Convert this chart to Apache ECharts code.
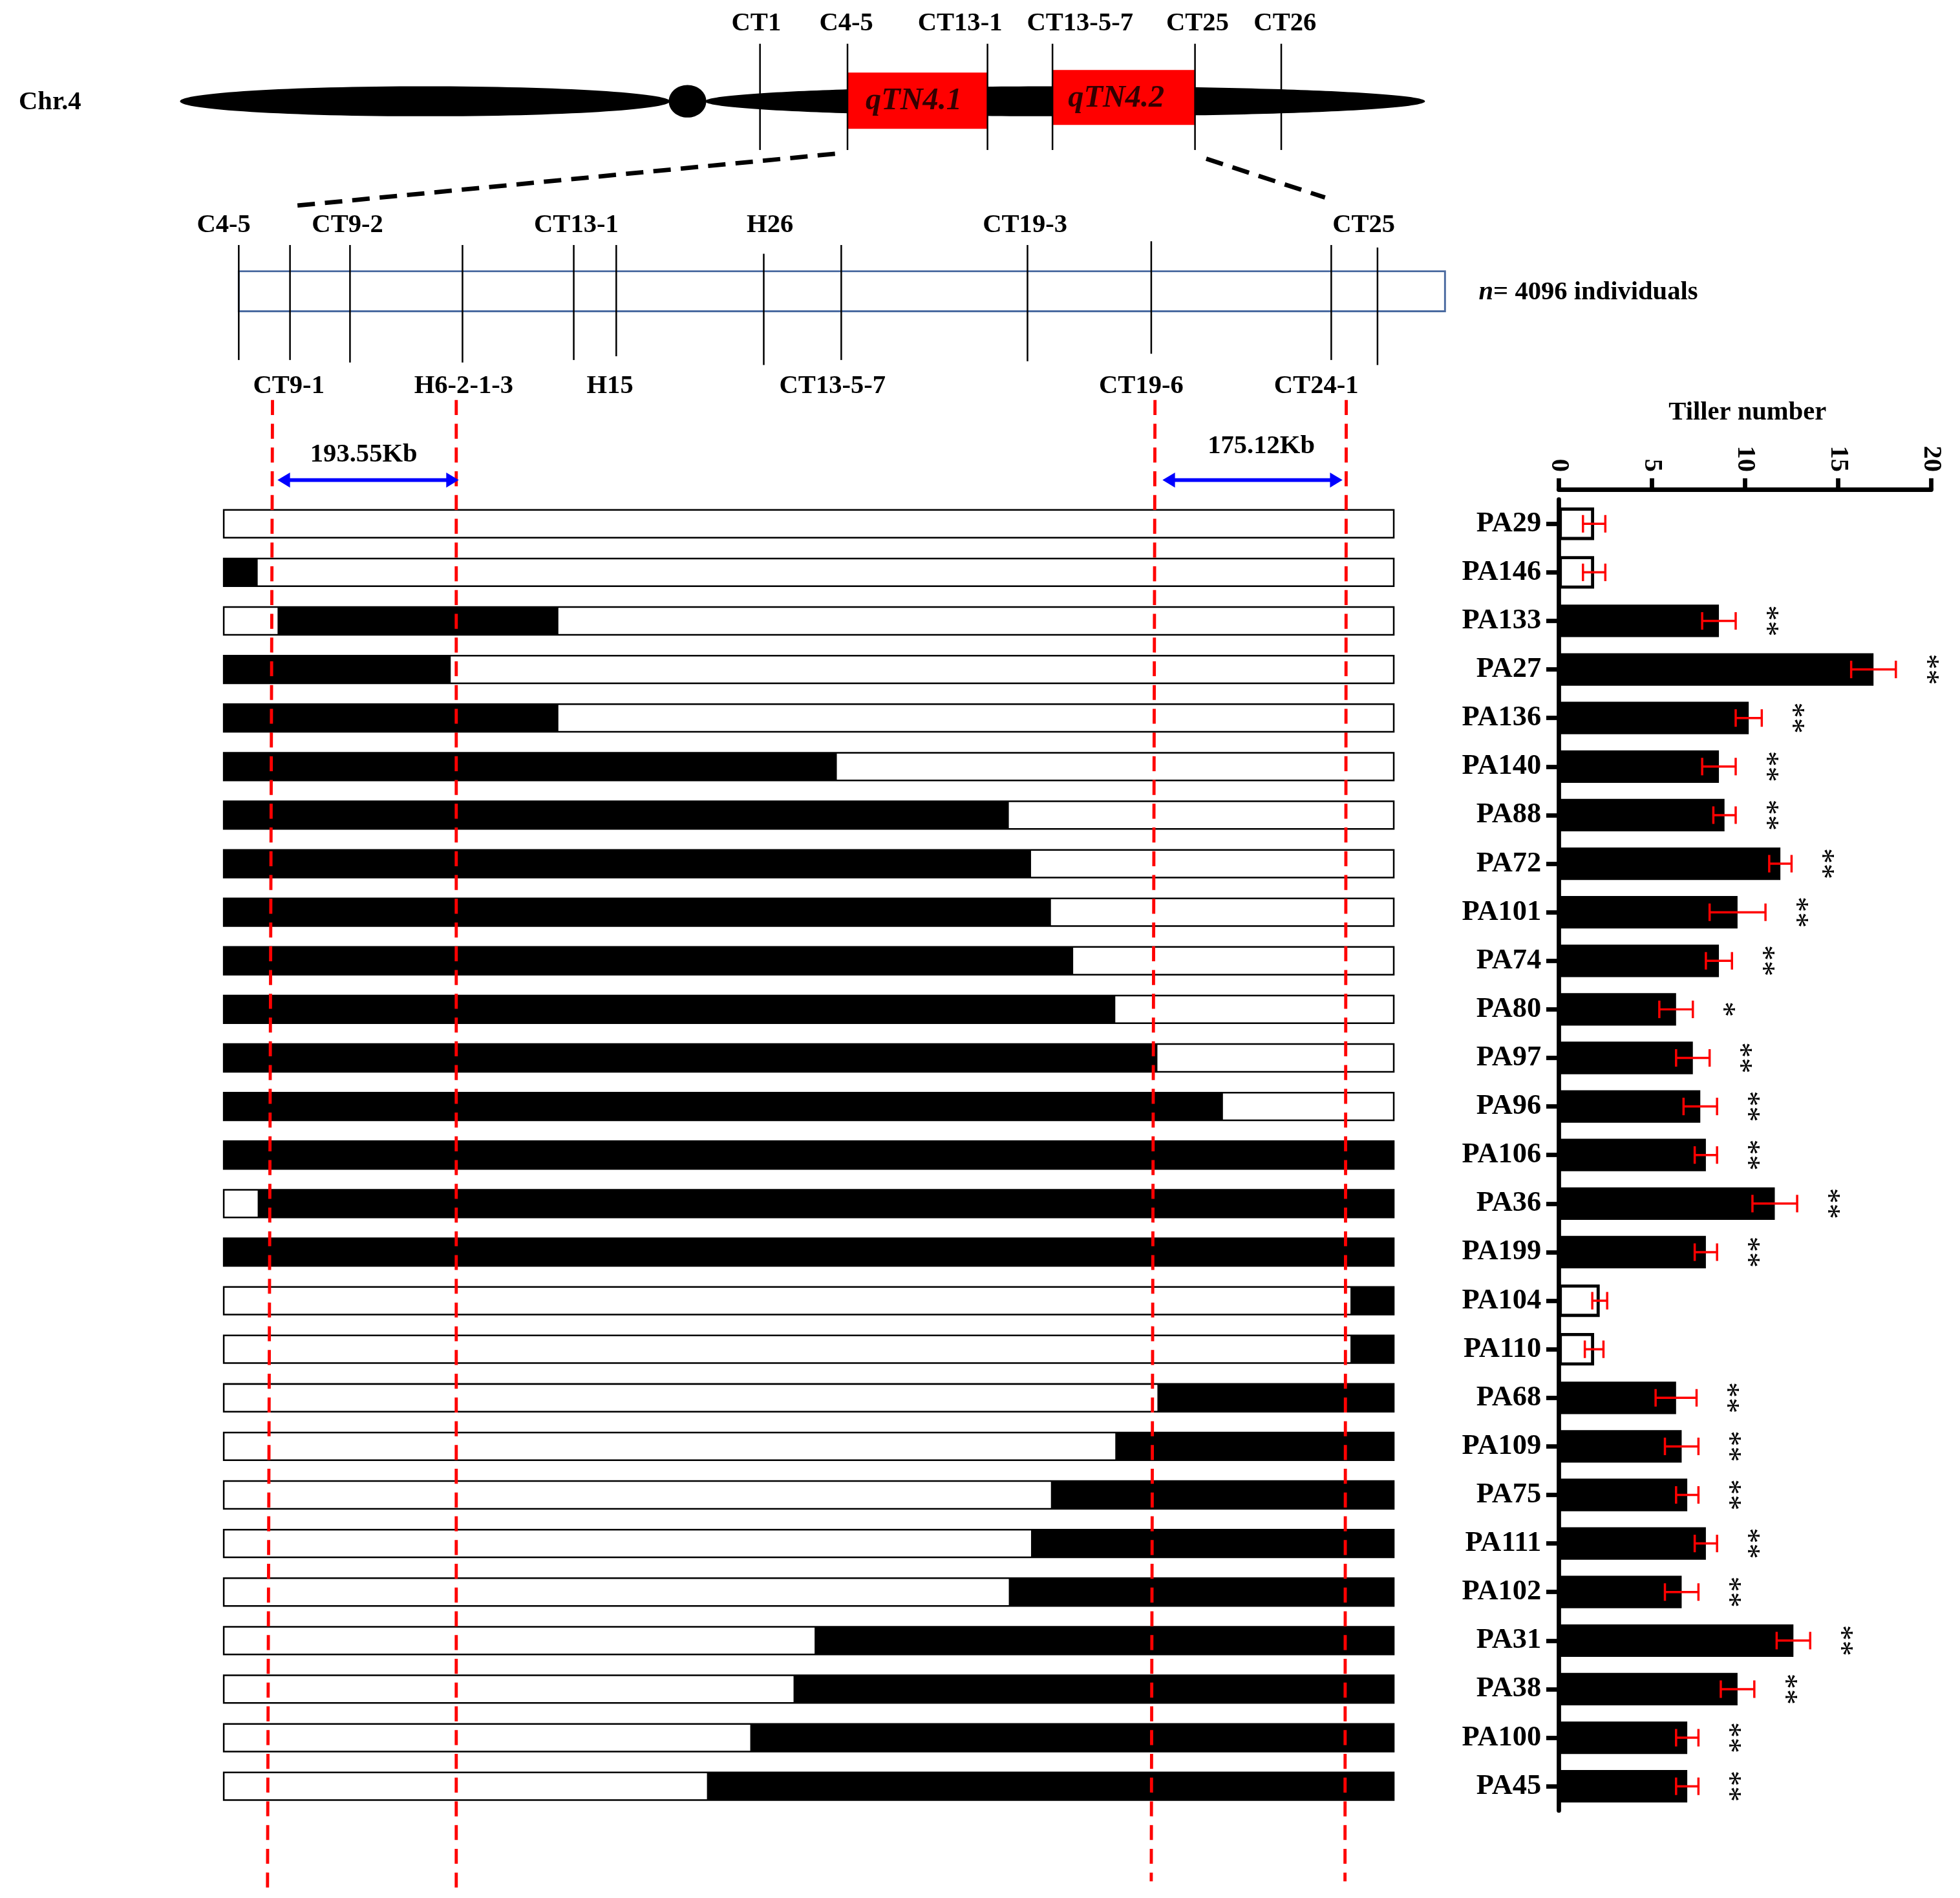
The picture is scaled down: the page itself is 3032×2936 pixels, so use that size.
<!DOCTYPE html>
<html><head><meta charset="utf-8">
<script src="https://cdn.jsdelivr.net/npm/echarts@6/dist/echarts.min.js"></script>
<style>html,body{margin:0;padding:0;background:#fff}#c{width:3032px;height:2936px}</style>
</head><body><div id="c"></div>
<script>
// ---- data ----
const lines = ['PA29','PA146','PA133','PA27','PA136','PA140','PA88','PA72','PA101','PA74','PA80','PA97','PA96','PA106','PA36','PA199','PA104','PA110','PA68','PA109','PA75','PA111','PA102','PA31','PA38','PA100','PA45'];
// black (introgressed) segments along the fine-map, in % of map length
const segments = [
  [], [[0,2.9]], [[4.6,28.6]], [[0,19.4]], [[0,28.6]], [[0,52.4]], [[0,67.1]], [[0,69]], [[0,70.7]], [[0,72.6]],
  [[0,76.2]], [[0,79.8]], [[0,85.4]], [[0,100]], [[2.9,100]], [[0,100]], [[96.3,100]], [[96.3,100]],
  [[79.8,100]], [[76.2,100]], [[70.7,100]], [[69,100]], [[67.1,100]], [[50.5,100]], [[48.7,100]], [[45,100]], [[41.3,100]]
];
const tillerMean = [1.9,1.9,8.6,16.9,10.2,8.6,8.9,11.9,9.6,8.6,6.3,7.2,7.6,7.9,11.6,7.9,2.2,1.9,6.3,6.6,6.9,7.9,6.6,12.6,9.6,6.9,6.9];
const tillerSD   = [0.6,0.6,0.9,1.2,0.7,0.9,0.6,0.6,1.5,0.7,0.9,0.9,0.9,0.6,1.2,0.6,0.4,0.5,1.1,0.9,0.6,0.6,0.9,0.9,0.9,0.6,0.6];
const signif     = ['','','**','**','**','**','**','**','**','**','*','**','**','**','**','**','','','**','**','**','**','**','**','**','**','**'];
const tillerTicks = [0,5,10,15,20];
const chromMarkers = [['CT1',608],['C4-5',678],['CT13-1',790],['CT13-5-7',842],['CT25',956],['CT26',1025]];

const k = 3032/1568; const S = v => v*k;
const FONT = 'Liberation Serif';
const chart = echarts.init(document.getElementById('c'));

const rowTop = 399.6, rowBot = 1448.4;
const G = [];
const txt = (x,y,t,size,opt) => G.push({type:'text',z:20,x:S(x),y:S(y),style:Object.assign({text:t,font:'bold '+S(size)+'px "'+FONT+'"',fill:'#000',align:'center',verticalAlign:'middle'},opt||{})});
const line = (x1,y1,x2,y2,stroke,w,dash) => G.push({type:'line',shape:{x1:S(x1),y1:S(y1),x2:S(x2),y2:S(y2)},style:{stroke:stroke,lineWidth:S(w),lineDash:dash?dash.map(S):null},z:10});

// chromosome
txt(40,82,'Chr.4',21);
G.push({type:'ellipse',shape:{cx:S(340),cy:S(81),rx:S(196),ry:S(12)},style:{fill:'#000'}});
G.push({type:'ellipse',shape:{cx:S(550),cy:S(81),rx:S(15),ry:S(13)},style:{fill:'#000'}});
G.push({type:'ellipse',shape:{cx:S(852),cy:S(81),rx:S(288),ry:S(12)},style:{fill:'#000'}});
G.push({type:'rect',shape:{x:S(678),y:S(58),width:S(112),height:S(45)},style:{fill:'#ff0000'},z:5});
G.push({type:'rect',shape:{x:S(842),y:S(56),width:S(114),height:S(44)},style:{fill:'#ff0000'},z:5});
txt(731,81,'qTN4.1',25,{font:'italic bold '+S(25)+'px "'+FONT+'"',fill:'#300'});
txt(893,79,'qTN4.2',25,{font:'italic bold '+S(25)+'px "'+FONT+'"',fill:'#300'});
chromMarkers.forEach(([n,x])=>{line(x,35,x,120,'#000',1.3); });
[['CT1',605],['C4-5',677],['CT13-1',768],['CT13-5-7',864],['CT25',958],['CT26',1028]].forEach(([n,x])=>txt(x,19,n,21));
line(668,123,232,165,'#000',3.5,[14,8]);
line(965,127,1060,158,'#000',3.5,[14,8]);
// fine map
G.push({type:'rect',shape:{x:S(191),y:S(217),width:S(965),height:S(32)},style:{fill:'#fff',stroke:'#4a6aa0',lineWidth:S(1.5)},z:3});
[191,232,280,370,459,493,611,673,822,921,1065,1102].forEach((x,i)=>line(x,[196,196,196,196,196,196,203,196,196,193,196,198][i],x,[288,288,290,290,288,285,292,288,289,283,288,292][i],'#000',1.3));
[['C4-5',179],['CT9-2',278],['CT13-1',461],['H26',616],['CT19-3',820],['CT25',1091]].forEach(([n,x])=>txt(x,180,n,21));
[['CT9-1',231],['H6-2-1-3',371],['H15',488],['CT13-5-7',666],['CT19-6',913],['CT24-1',1053]].forEach(([n,x])=>txt(x,309,n,21));
G.push({type:'text',z:20,x:S(1183),y:S(234),style:{rich:{a:{font:'italic bold '+S(21)+'px "'+FONT+'"'},b:{font:'bold '+S(21)+'px "'+FONT+'"'}},text:'{a|n}{b|= 4096 individuals}',verticalAlign:'middle',fill:'#000'}});
// red dashed lines
[[218,320,214,1510],[365,320,365,1510],[924,320,921,1505],[1077,320,1076,1505]].forEach(a=>line(a[0],a[1],a[2],a[3],'#ff0000',2.5,[12,7]));
// arrows
const arrow=(x1,x2,y)=>{line(x1+8,y,x2-8,y,'#0000ff',3);
 G.push({type:'polygon',shape:{points:[[S(x1),S(y)],[S(x1+10),S(y-6)],[S(x1+10),S(y+6)]]},style:{fill:'#0000ff'},z:11});
 G.push({type:'polygon',shape:{points:[[S(x2),S(y)],[S(x2-10),S(y-6)],[S(x2-10),S(y+6)]]},style:{fill:'#0000ff'},z:11});};
arrow(222,367,384); arrow(930,1074,384);
txt(291,364,'193.55Kb',21); txt(1009,357,'175.12Kb',21);
txt(1398,330,'Tiller number',21);

chart.setOption({
  animation:false,
  grid:[
    {left:S(179),width:S(936),top:S(rowTop),height:S(rowBot-rowTop)},
    {left:S(1247),width:S(298),top:S(rowTop),height:S(rowBot-rowTop)}
  ],
  xAxis:[
    {gridIndex:0,type:'value',min:0,max:100,show:false},
    {gridIndex:1,type:'value',min:0,max:20,interval:5,position:'top',offset:S(8),
     axisLine:{show:true,lineStyle:{color:'#000',width:S(3.5)}},axisTick:{show:true,inside:false,length:S(9),lineStyle:{color:'#000',width:S(3.5)}},
     splitLine:{show:false},axisLabel:{show:false}}
  ],
  yAxis:[
    {gridIndex:0,type:'category',data:lines,inverse:true,show:false},
    {gridIndex:1,type:'category',data:lines,inverse:true,
     axisLine:{show:true,onZero:false,lineStyle:{color:'#000',width:S(3.5)}},axisTick:{show:true,alignWithLabel:true,length:S(10),lineStyle:{color:'#000',width:S(3.5)}},
     axisLabel:{color:'#000',fontFamily:FONT,fontWeight:'bold',fontSize:S(23),margin:S(14)}}
  ],
  series:[
    {type:'custom',xAxisIndex:0,yAxisIndex:0,data:lines.map((n,i)=>[0,i]),
     renderItem:(p,api)=>{
       const i=p.dataIndex; const h=api.size([0,1])[1]*0.57;
       const a=api.coord([0,i]), b=api.coord([100,i]);
       const ch=[{type:'rect',shape:{x:a[0],y:a[1]-h/2,width:b[0]-a[0],height:h},style:{fill:'#fff'}}];
       segments[i].forEach(s=>{const c=api.coord([s[0],i]),d=api.coord([s[1],i]);
         ch.push({type:'rect',shape:{x:c[0],y:c[1]-h/2,width:d[0]-c[0],height:h},style:{fill:'#000'}});});
       ch.push({type:'rect',shape:{x:a[0],y:a[1]-h/2,width:b[0]-a[0],height:h},style:{fill:null,stroke:'#000',lineWidth:S(1.3)}});
       return {type:'group',children:ch};
     }},
    {type:'bar',xAxisIndex:1,yAxisIndex:1,barWidth:S(26),
     data:tillerMean.map((v,i)=>({value:v,itemStyle: v<3?{color:'#fff',borderColor:'#000',borderWidth:S(2.5)}:{color:'#000'}}))},
    {type:'custom',xAxisIndex:1,yAxisIndex:1,z:5,data:tillerMean.map((v,i)=>[v,i]),
     renderItem:(p,api)=>{
       const i=p.dataIndex,m=tillerMean[i],sd=tillerSD[i];
       const a=api.coord([m-sd,i]),b=api.coord([m+sd,i]);const c=S(7);
       const st={stroke:'#ff0000',lineWidth:S(1.8)};
       const ch=[{type:'line',shape:{x1:a[0],y1:a[1],x2:b[0],y2:b[1]},style:st},
         {type:'line',shape:{x1:a[0],y1:a[1]-c,x2:a[0],y2:a[1]+c},style:st},
         {type:'line',shape:{x1:b[0],y1:b[1]-c,x2:b[0],y2:b[1]+c},style:st}];
       if(signif[i]){const t=api.coord([m+sd,i]);
         ch.push({type:'text',x:t[0]+S(24),y:t[1],rotation:-Math.PI/2,style:{text:signif[i],font:S(25)+'px "'+FONT+'"',fill:'#000',align:'center',verticalAlign:'middle'}});}
       return {type:'group',children:ch};
     }},
    // rotated tick labels of the tiller axis
    {type:'custom',xAxisIndex:1,yAxisIndex:1,clip:false,data:tillerTicks.map(v=>[v,0]),
     renderItem:(p,api)=>{
       const v=tillerTicks[p.dataIndex]; const c=api.coord([v,0]);
       return {type:'text',x:c[0],y:S(rowTop-8-14),rotation:-Math.PI/2,
         style:{text:String(v),font:'bold '+S(21)+'px "'+FONT+'"',fill:'#000',align:'right',verticalAlign:'middle'}};
     }}
  ],
  graphic:G
});
</script></body></html>
